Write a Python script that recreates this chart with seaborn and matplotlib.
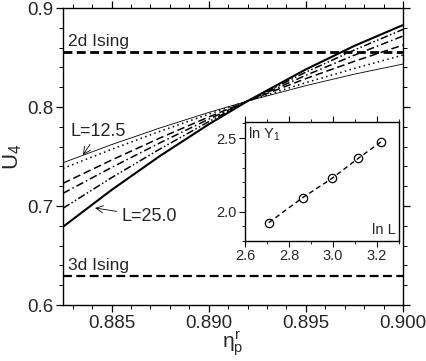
import numpy as np
import pandas as pd
import matplotlib
matplotlib.use("Agg")
import matplotlib.pyplot as plt
import seaborn as sns
from matplotlib.ticker import MultipleLocator

# main panel: Binder cumulant U4 vs eta_p^r for several L
eta = [0.8825, 0.885, 0.8875, 0.890, 0.892, 0.895, 0.8975, 0.900]
U4_L125 = [0.7437, 0.7620, 0.7789, 0.7945, 0.806, 0.8216, 0.8332, 0.8434]
U4_L150 = [0.7380, 0.7572, 0.7755, 0.7928, 0.806, 0.8246, 0.8390, 0.8525]
U4_L175 = [0.7229, 0.7464, 0.7688, 0.7899, 0.806, 0.8287, 0.8462, 0.8626]
U4_L200 = [0.7128, 0.7389, 0.7639, 0.7877, 0.806, 0.8320, 0.8524, 0.8717]
U4_L225 = [0.6977, 0.7286, 0.7577, 0.7852, 0.806, 0.8352, 0.8576, 0.8784]
U4_L250 = [0.6790, 0.7162, 0.7507, 0.7825, 0.806, 0.8380, 0.8618, 0.8828]
L_labels = ["12.5", "15.0", "17.5", "20.0", "22.5", "25.0"]

U4_2d = 0.856
U4_3d = 0.629

# inset: ln Y1 vs ln L
lnL = [2.708, 2.862, 2.996, 3.114, 3.219]
lnY1 = [1.925, 2.095, 2.227, 2.362, 2.476]

sns.set_style("ticks")
plt.rcParams['font.family'] = ['Liberation Sans', 'DejaVu Sans']
plt.rcParams['mathtext.fontset'] = 'custom'
plt.rcParams['mathtext.rm'] = 'Liberation Sans'
plt.rcParams['mathtext.it'] = 'Liberation Sans'
plt.rcParams['axes.linewidth'] = 1.0
plt.rcParams['xtick.direction'] = 'out'
plt.rcParams['ytick.direction'] = 'out'

fig = plt.figure(figsize=(4.27, 3.61), dpi=100)
ax = fig.add_axes([0.1475, 0.1551, 0.7963, 0.8227])

curves = [U4_L125, U4_L150, U4_L175, U4_L200, U4_L225, U4_L250]
styles = [
    dict(linestyle='-', linewidth=0.6),
    dict(linestyle=(0, (1, 2.2)), linewidth=1.1),
    dict(linestyle=(0, (5, 2.5)), linewidth=1.1),
    dict(linestyle=(0, (5, 2, 1, 2)), linewidth=1.1),
    dict(linestyle=(0, (5, 1.6, 1, 1.6, 1, 1.6)), linewidth=1.1),
    dict(linestyle='-', linewidth=1.5),
]
for lab, vals, st in zip(L_labels, curves, styles):
    df = pd.DataFrame({'eta': eta, 'U4': vals})
    sns.lineplot(data=df, x='eta', y='U4', ax=ax, color='black', **st)

ax.axhline(U4_2d, color='black', lw=2.0, dashes=(3.2, 1.6))
ax.axhline(U4_3d, color='black', lw=1.6, dashes=(4, 2))
ax.text(0.88276, U4_2d + 0.0025, '2d Ising', fontsize=12.5, ha='left', va='bottom')
ax.text(0.88276, U4_3d + 0.003, '3d Ising', fontsize=12.5, ha='left', va='bottom')

ax.annotate('L=12.5', xy=(0.88353, 0.7515), xytext=(0.88433, 0.7753),
            fontsize=13, ha='center', va='center',
            arrowprops=dict(arrowstyle='->', lw=0.6, color='black', shrinkA=1, shrinkB=0))
ax.annotate('L=25.0', xy=(0.88415, 0.698), xytext=(0.88693, 0.6894),
            fontsize=13, ha='center', va='center',
            arrowprops=dict(arrowstyle='->', lw=0.6, color='black', shrinkA=1, shrinkB=0))

ax.set_xlim(0.8825, 0.900)
ax.set_ylim(0.6, 0.9)
ax.set_xticks([0.885, 0.890, 0.895, 0.900])
ax.set_xticklabels(['0.885', '0.890', '0.895', '0.900'])
ax.set_yticks([0.6, 0.7, 0.8, 0.9])
ax.set_yticklabels(['0.6', '0.7', '0.8', '0.9'])
ax.xaxis.set_minor_locator(MultipleLocator(0.001))
ax.yaxis.set_minor_locator(MultipleLocator(0.02))
ax.tick_params(which='both', top=True, right=True, labelsize=13.5, color='black')
ax.tick_params(which='major', length=5, width=0.9, pad=2)
ax.tick_params(which='minor', length=3, width=0.7)
ax.set_xlabel(r'$\eta_{\rm p}^{\rm r}$', fontsize=15, labelpad=-2)
ax.set_ylabel(r'U$_4$', fontsize=16, labelpad=2)
for s in ax.spines.values():
    s.set_color('black')

# inset
ins = fig.add_axes([0.5738, 0.3324, 0.3606, 0.3296])
dfi = pd.DataFrame({'lnL': lnL, 'lnY1': lnY1})
sns.lineplot(data=dfi, x='lnL', y='lnY1', ax=ins, color='black', lw=1.0,
             dashes=False, linestyle=(0, (3.5, 2.5)), marker='o', markersize=6,
             markerfacecolor='none', markeredgecolor='black', markeredgewidth=0.9)
ins.set_xlim(2.6, 3.3)
ins.set_ylim(1.8, 2.61)
ins.set_xticks([2.6, 2.8, 3.0, 3.2])
ins.set_xticklabels(['2.6', '2.8', '3.0', '3.2'])
ins.set_yticks([2.0, 2.5])
ins.set_yticklabels(['2.0', '2.5'])
ins.xaxis.set_minor_locator(MultipleLocator(0.1))
ins.yaxis.set_minor_locator(MultipleLocator(0.1))
ins.tick_params(which='both', top=True, right=False, labelsize=10.5, color='black')
ins.tick_params(which='major', length=4, width=0.8, pad=2)
ins.tick_params(which='minor', length=2.5, width=0.6)
ins.set_xlabel('')
ins.set_ylabel('')
ins.text(0.02, 0.97, r'ln Y$_1$', transform=ins.transAxes, fontsize=10.5, ha='left', va='top')
ins.text(0.98, 0.03, 'ln L', transform=ins.transAxes, fontsize=10.5, ha='right', va='bottom')
for s in ins.spines.values():
    s.set_color('black')

fig.savefig('out.png', dpi=100)
